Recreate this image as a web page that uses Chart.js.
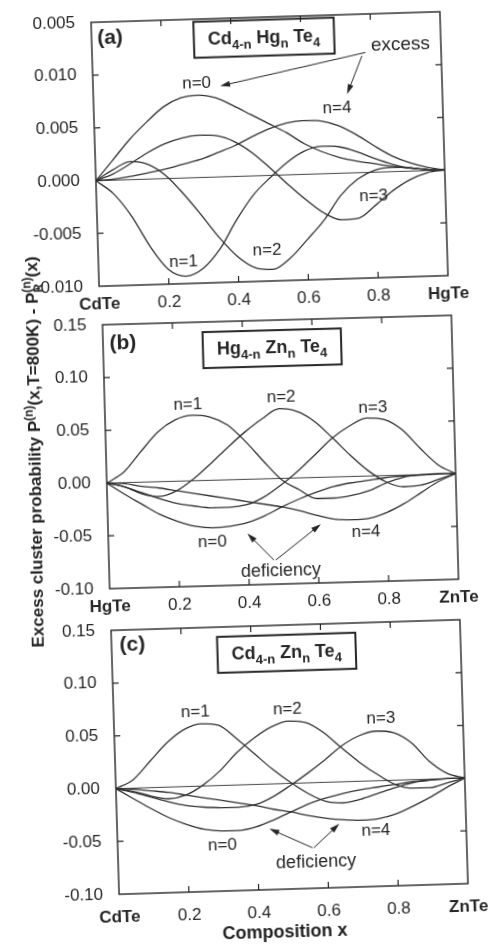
<!DOCTYPE html>
<html>
<head>
<meta charset="utf-8">
<script src="https://cdn.jsdelivr.net/npm/chart.js@4.4.0/dist/chart.umd.min.js"></script>
<style>
  html, body { margin: 0; padding: 0; background: #fff; }
  body { width: 488px; height: 945px; position: relative; overflow: hidden; font-family: "Liberation Sans", Arial, sans-serif; color: #222; }
  .panel { position: absolute; width: 470px; height: 330px; transform-origin: 244.5px 152px; }
  .panel canvas { display: block; }
  #ytitle { position: absolute; left: 35px; top: 452px; transform: translate(-50%, -50%) rotate(-91deg); white-space: nowrap; font-weight: bold; font-size: 17px; }
  #ytitle sup { font-size: 12px; }
  #ytitle .ss { display: inline-flex; flex-direction: column; font-size: 12px; line-height: 1; vertical-align: middle; }
  #xtitle { position: absolute; left: 285px; top: 932px; transform: translate(-50%, -50%) rotate(-1.7deg); white-space: nowrap; font-weight: bold; font-size: 18px; }
</style>
</head>
<body>
<div class="panel" style="left:24.7px; top:-2.7px; transform:rotate(-1.75deg)"><canvas id="chartA" width="470" height="330"></canvas></div>
<div class="panel" style="left:35.6px; top:299.6px; transform:rotate(-1.55deg)"><canvas id="chartB" width="470" height="330"></canvas></div>
<div class="panel" style="left:45.3px; top:604.6px; transform:rotate(-1.75deg)"><canvas id="chartC" width="470" height="330"></canvas></div>
<div id="ytitle">Excess cluster probability P<sup>(n)</sup>(x,T=800K) - P<span class="ss"><span>(n)</span><span>R</span></span>(x)</div>
<div id="xtitle">Composition x</div>
<script>
// composition x shared by all three panels
var composition = [0, 0.05, 0.1, 0.15, 0.2, 0.25, 0.3, 0.35, 0.4, 0.45, 0.5, 0.55, 0.6, 0.65, 0.7, 0.75, 0.8, 0.85, 0.9, 0.95, 1];

// (a) Cd(4-n)Hg(n)Te4
var cdhgN0 = [0, 0.0019, 0.0038, 0.0054, 0.0068, 0.0076, 0.0078, 0.0075, 0.0067, 0.0058, 0.0049, 0.0040, 0.0029, 0.0021, 0.0015, 0.0011, 0.0008, 0.0005, 0.0003, 0.0001, 0];
var cdhgN1 = [0, -0.0013, -0.0035, -0.0064, -0.0086, -0.0093, -0.0086, -0.0068, -0.0041, -0.0018, -0.0002, 0.0012, 0.0022, 0.0026, 0.0025, 0.0020, 0.0013, 0.0007, 0.0003, 0.0001, 0];
var cdhgN2 = [0, 0.0010, 0.0017, 0.0014, 0.0003, -0.0015, -0.0036, -0.0058, -0.0076, -0.0087, -0.0089, -0.0079, -0.0062, -0.0044, -0.0021, -0.0006, 0.0002, 0.0004, 0.0003, 0.0001, 0];
var cdhgN3 = [0, 0.0006, 0.0015, 0.0025, 0.0033, 0.0038, 0.0040, 0.0039, 0.0033, 0.0022, 0.0007, -0.0009, -0.0024, -0.0037, -0.0044, -0.0043, -0.0031, -0.0018, -0.0008, -0.0002, 0];
var cdhgN4 = [0, 0.0001, 0.0003, 0.0006, 0.0009, 0.0013, 0.0017, 0.0023, 0.0029, 0.0037, 0.0044, 0.0049, 0.0051, 0.0050, 0.0045, 0.0036, 0.0025, 0.0015, 0.0008, 0.0003, 0];
var cdhgYTicks = ['-0.010', '-0.005', '0.000', '0.005', '0.010', '0.005'];
var cdhgEnds = ['CdTe', 'HgTe'];

// (b) Hg(4-n)Zn(n)Te4
var hgznN0 = [0, -0.011, -0.021, -0.031, -0.038, -0.043, -0.045, -0.044, -0.041, -0.035, -0.027, -0.020, -0.014, -0.009, -0.006, -0.004, -0.002, -0.001, -0.0005, 0, 0];
var hgznN1 = [0, 0.010, 0.029, 0.047, 0.058, 0.062, 0.060, 0.052, 0.036, 0.017, -0.001, -0.011, -0.020, -0.020, -0.018, -0.014, -0.007, -0.002, 0, 0.0005, 0];
var hgznN2 = [0, -0.004, -0.011, -0.014, -0.009, 0.002, 0.016, 0.031, 0.045, 0.057, 0.066, 0.063, 0.053, 0.037, 0.020, 0.005, -0.006, -0.011, -0.010, -0.005, 0];
var hgznN3 = [0, -0.004, -0.010, -0.016, -0.021, -0.024, -0.026, -0.026, -0.024, -0.017, -0.006, 0.007, 0.022, 0.037, 0.048, 0.055, 0.053, 0.043, 0.025, 0.009, 0];
var hgznN4 = [0, -0.001, -0.004, -0.006, -0.009, -0.012, -0.015, -0.018, -0.021, -0.024, -0.027, -0.031, -0.036, -0.040, -0.041, -0.040, -0.035, -0.027, -0.017, -0.007, 0];
var hgznYTicks = ['-0.10', '-0.05', '0.00', '0.05', '0.10', '0.15'];
var hgznEnds = ['HgTe', 'ZnTe'];

// (c) Cd(4-n)Zn(n)Te4
var cdznN0 = [0, -0.010, -0.020, -0.029, -0.036, -0.041, -0.043, -0.043, -0.040, -0.034, -0.027, -0.020, -0.015, -0.011, -0.008, -0.006, -0.004, -0.002, -0.001, 0, 0];
var cdznN1 = [0, 0.008, 0.025, 0.042, 0.054, 0.059, 0.057, 0.044, 0.029, 0.014, 0.001, -0.010, -0.018, -0.020, -0.017, -0.012, -0.007, -0.003, -0.001, 0, 0];
var cdznN2 = [0, -0.003, -0.008, -0.011, -0.008, 0.001, 0.014, 0.031, 0.044, 0.054, 0.059, 0.057, 0.047, 0.032, 0.018, 0.006, -0.004, -0.008, -0.008, -0.004, 0];
var cdznN3 = [0, -0.004, -0.009, -0.014, -0.018, -0.020, -0.021, -0.021, -0.019, -0.012, -0.002, 0.009, 0.021, 0.034, 0.043, 0.047, 0.045, 0.035, 0.017, 0.005, 0];
var cdznN4 = [0, -0.001, -0.003, -0.005, -0.008, -0.011, -0.014, -0.017, -0.020, -0.024, -0.027, -0.031, -0.034, -0.036, -0.037, -0.036, -0.032, -0.025, -0.017, -0.008, 0];
var cdznYTicks = ['-0.10', '-0.05', '0.00', '0.05', '0.10', '0.15'];
var cdznEnds = ['CdTe', 'ZnTe'];

var FONT = '"Liberation Sans", Arial, sans-serif';
var INK = '#262626';

// labels, formula boxes and arrows, placed in data units
var notesA = [
    { kind: 'text', text: '(a)', x: 0.053, y: 0.0135, font: 'bold 21px ' + FONT },
    { kind: 'formula', parts: [['Cd', 0], ['4-n', 1], [' Hg', 0], ['n', 1], [' Te', 0], ['4', 1]], x: 0.494, y: 0.01305 },
    { kind: 'text', text: 'excess', x: 0.884, y: 0.0120, font: '19px ' + FONT },
    { kind: 'arrow', from: [0.783, 0.01136], to: [0.364, 0.0086] },
    { kind: 'arrow', from: [0.773, 0.01105], to: [0.727, 0.00746] },
    { kind: 'text', text: 'n=0', x: 0.297, y: 0.0089 },
    { kind: 'text', text: 'n=4', x: 0.697, y: 0.0062 },
    { kind: 'text', text: 'n=3', x: 0.794, y: -0.0023 },
    { kind: 'text', text: 'n=2', x: 0.484, y: -0.0071 },
    { kind: 'text', text: 'n=1', x: 0.244, y: -0.0079 }
];
var notesB = [
    { kind: 'text', text: '(b)', x: 0.057, y: 0.132, font: 'bold 21px ' + FONT },
    { kind: 'formula', parts: [['Hg', 0], ['4-n', 1], [' Zn', 0], ['n', 1], [' Te', 0], ['4', 1]], x: 0.484, y: 0.1234 },
    { kind: 'text', text: 'n=1', x: 0.238, y: 0.0724 },
    { kind: 'text', text: 'n=2', x: 0.506, y: 0.0764 },
    { kind: 'text', text: 'n=3', x: 0.768, y: 0.0648 },
    { kind: 'text', text: 'n=0', x: 0.298, y: -0.0587 },
    { kind: 'text', text: 'n=4', x: 0.739, y: -0.0526 },
    { kind: 'text', text: 'deficiency', x: 0.492, y: -0.0875, font: '18px ' + FONT },
    { kind: 'arrow', from: [0.473, -0.0772], to: [0.399, -0.0512] },
    { kind: 'arrow', from: [0.478, -0.0772], to: [0.610, -0.0443] }
];
var notesC = [
    { kind: 'text', text: '(c)', x: 0.06, y: 0.1355, font: 'bold 21px ' + FONT },
    { kind: 'formula', parts: [['Cd', 0], ['4-n', 1], [' Zn', 0], ['n', 1], [' Te', 0], ['4', 1]], x: 0.501, y: 0.1237 },
    { kind: 'text', text: 'n=1', x: 0.234, y: 0.0698 },
    { kind: 'text', text: 'n=2', x: 0.498, y: 0.0703 },
    { kind: 'text', text: 'n=3', x: 0.765, y: 0.0589 },
    { kind: 'text', text: 'n=0', x: 0.300, y: -0.0568 },
    { kind: 'text', text: 'n=4', x: 0.741, y: -0.047 },
    { kind: 'text', text: 'deficiency', x: 0.567, y: -0.0753, font: '18px ' + FONT },
    { kind: 'arrow', from: [0.558, -0.0616], to: [0.436, -0.0423] },
    { kind: 'arrow', from: [0.562, -0.0616], to: [0.637, -0.0396] }
];

function drawArrow(ctx, x1, y1, x2, y2) {
    var a = Math.atan2(y2 - y1, x2 - x1);
    ctx.beginPath();
    ctx.moveTo(x1, y1);
    ctx.lineTo(x2 - 6 * Math.cos(a), y2 - 6 * Math.sin(a));
    ctx.stroke();
    ctx.beginPath();
    ctx.moveTo(x2, y2);
    ctx.lineTo(x2 - 10 * Math.cos(a) + 3 * Math.sin(a), y2 - 10 * Math.sin(a) - 3 * Math.cos(a));
    ctx.lineTo(x2 - 10 * Math.cos(a) - 3 * Math.sin(a), y2 - 10 * Math.sin(a) + 3 * Math.cos(a));
    ctx.closePath();
    ctx.fill();
}

function drawFormula(ctx, parts, cx, cy) {
    var big = 'bold 18px ' + FONT, small = 'bold 13px ' + FONT;
    var w = 0;
    parts.forEach(function(p) { ctx.font = p[1] ? small : big; w += ctx.measureText(p[0]).width; });
    var bw = w + 28, bh = 36;
    ctx.lineWidth = 2;
    ctx.strokeRect(cx - bw / 2, cy - bh / 2, bw, bh);
    ctx.textAlign = 'left';
    ctx.textBaseline = 'alphabetic';
    var x = cx - w / 2;
    parts.forEach(function(p) {
        ctx.font = p[1] ? small : big;
        ctx.fillText(p[0], x, cy + (p[1] ? 10 : 5));
        x += ctx.measureText(p[0]).width;
    });
}

// frame, inward ticks on all four sides and the annotations
function decor(notes) {
    return {
        id: 'decor',
        afterDraw: function(chart) {
            var ctx = chart.ctx, area = chart.chartArea;
            var sx = chart.scales.x, sy = chart.scales.y;
            ctx.save();
            ctx.strokeStyle = INK;
            ctx.fillStyle = INK;
            ctx.lineWidth = 1.4;
            ctx.strokeRect(area.left, area.top, area.width, area.height);
            ctx.lineWidth = 1.2;
            ctx.beginPath();
            sx.ticks.forEach(function(t) {
                if (t.value <= sx.min || t.value >= sx.max) return;
                var px = sx.getPixelForValue(t.value);
                ctx.moveTo(px, area.bottom); ctx.lineTo(px, area.bottom - 6);
                ctx.moveTo(px, area.top); ctx.lineTo(px, area.top + 6);
            });
            sy.ticks.forEach(function(t) {
                if (t.value <= sy.min || t.value >= sy.max) return;
                var py = sy.getPixelForValue(t.value);
                ctx.moveTo(area.left, py); ctx.lineTo(area.left + 6, py);
                ctx.moveTo(area.right, py); ctx.lineTo(area.right - 6, py);
            });
            ctx.stroke();
            notes.forEach(function(n) {
                if (n.kind === 'text') {
                    ctx.font = n.font || ('17px ' + FONT);
                    ctx.textAlign = 'center';
                    ctx.textBaseline = 'middle';
                    ctx.fillText(n.text, sx.getPixelForValue(n.x), sy.getPixelForValue(n.y));
                } else if (n.kind === 'formula') {
                    drawFormula(ctx, n.parts, sx.getPixelForValue(n.x), sy.getPixelForValue(n.y));
                } else if (n.kind === 'arrow') {
                    ctx.lineWidth = 1;
                    drawArrow(ctx, sx.getPixelForValue(n.from[0]), sy.getPixelForValue(n.from[1]),
                        sx.getPixelForValue(n.to[0]), sy.getPixelForValue(n.to[1]));
                }
            });
            ctx.restore();
        }
    };
}

function makePanel(id, series, yMin, yMax, yStep, yLabels, ends, notes, xPad) {
    var datasets = series.map(function(s) {
        return {
            data: composition.map(function(x, i) { return { x: x, y: s[i] }; }),
            borderColor: '#333',
            borderWidth: 1.3,
            pointRadius: 0,
            cubicInterpolationMode: 'monotone',
            fill: false
        };
    });
    // straight reference line at zero
    datasets.push({
        data: [{ x: 0, y: 0 }, { x: 1, y: 0 }],
        borderColor: '#444',
        borderWidth: 1,
        pointRadius: 0,
        fill: false
    });
    new Chart(document.getElementById(id), {
        type: 'line',
        data: { datasets: datasets },
        options: {
            responsive: false,
            animation: false,
            layout: { padding: { left: 0, top: 20, right: 51, bottom: 6 } },
            plugins: { legend: { display: false }, tooltip: { enabled: false } },
            scales: {
                x: {
                    type: 'linear',
                    min: 0,
                    max: 1,
                    grid: { display: false },
                    border: { display: false },
                    afterFit: function(scale) { scale.height = 40; },
                    ticks: {
                        stepSize: 0.2,
                        padding: xPad,
                        maxRotation: 0,
                        color: INK,
                        font: function(c) {
                            var v = c.tick ? c.tick.value : 0.5;
                            return { family: FONT, size: 17, weight: (v === 0 || v === 1) ? 'bold' : 'normal' };
                        },
                        callback: function(v) {
                            if (v === 0) return ends[0];
                            if (v === 1) return ends[1];
                            return v.toFixed(1);
                        }
                    }
                },
                y: {
                    min: yMin,
                    max: yMax,
                    grid: { display: false },
                    border: { display: false },
                    afterFit: function(scale) { scale.width = 70; },
                    ticks: {
                        stepSize: yStep,
                        padding: 8,
                        color: INK,
                        font: { family: FONT, size: 17 },
                        callback: function(v) {
                            return yLabels[Math.round((v - yMin) / yStep)];
                        }
                    }
                }
            }
        },
        plugins: [decor(notes)]
    });
}

makePanel('chartA', [cdhgN0, cdhgN1, cdhgN2, cdhgN3, cdhgN4], -0.010, 0.015, 0.005, cdhgYTicks, cdhgEnds, notesA, 0);
makePanel('chartB', [hgznN0, hgznN1, hgznN2, hgznN3, hgznN4], -0.10, 0.15, 0.05, hgznYTicks, hgznEnds, notesB, 0);
makePanel('chartC', [cdznN0, cdznN1, cdznN2, cdznN3, cdznN4], -0.10, 0.15, 0.05, cdznYTicks, cdznEnds, notesC, 5);
</script>
</body>
</html>
